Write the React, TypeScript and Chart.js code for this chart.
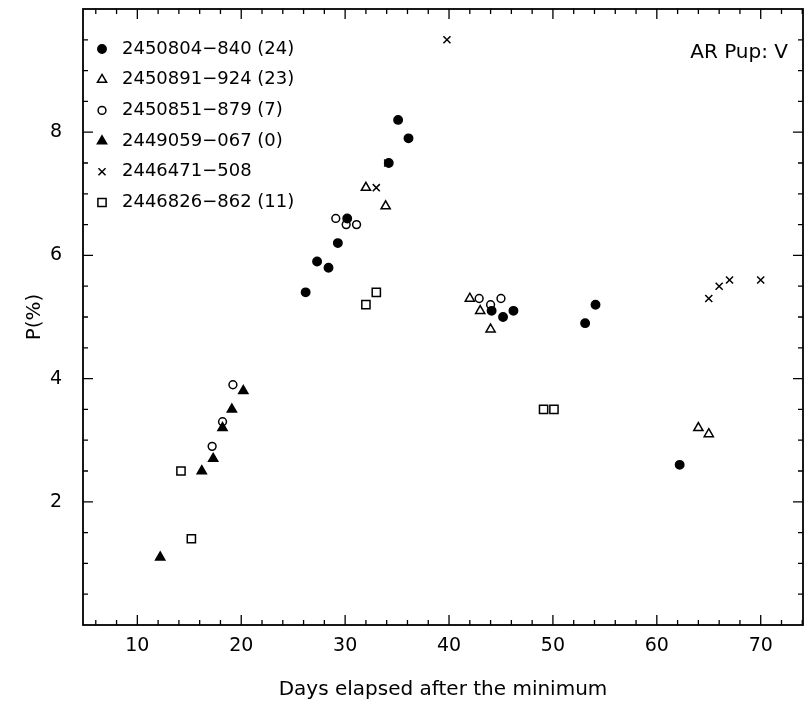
import React, { useEffect, useRef } from 'react';
import { Chart, registerables } from 'chart.js';
Chart.register(...registerables);

const FONT = "'DejaVu Sans', 'Liberation Sans', sans-serif";

const xTicks = [10, 20, 30, 40, 50, 60, 70];
const yTicks = [2, 4, 6, 8];
const xTitle = 'Days elapsed after the minimum';
const yTitle = 'P(%)';
const starLabel = 'AR Pup: V';

const s1Label = '2450804−840 (24)';
const s1X = [26.2, 27.3, 28.4, 29.3, 30.2, 34.2, 35.1, 36.1, 44.1, 45.2, 46.2, 53.1, 54.1, 62.2];
const s1Y = [5.4, 5.9, 5.8, 6.2, 6.6, 7.5, 8.2, 7.9, 5.1, 5.0, 5.1, 4.9, 5.2, 2.6];

const s2Label = '2450891−924 (23)';
const s2X = [32.0, 33.9, 42.0, 43.0, 44.0, 64.0, 65.0];
const s2Y = [7.1, 6.8, 5.3, 5.1, 4.8, 3.2, 3.1];

const s3Label = '2450851−879 (7)';
const s3X = [17.2, 18.2, 19.2, 29.1, 30.1, 31.1, 42.9, 44.0, 45.0];
const s3Y = [2.9, 3.3, 3.9, 6.6, 6.5, 6.5, 5.3, 5.2, 5.3];

const s4Label = '2449059−067 (0)';
const s4X = [12.2, 16.2, 17.3, 18.2, 19.1, 20.2];
const s4Y = [1.1, 2.5, 2.7, 3.2, 3.5, 3.8];

const s5Label = '2446471−508';
const s5X = [33.0, 34.1, 39.8, 65.0, 66.0, 67.0, 70.0];
const s5Y = [7.1, 7.5, 9.5, 5.3, 5.5, 5.6, 5.6];

const s6Label = '2446826−862 (11)';
const s6X = [14.2, 15.2, 32.0, 33.0, 49.1, 50.1];
const s6Y = [2.5, 1.4, 5.2, 5.4, 3.5, 3.5];

const pts = (xs: number[], ys: number[]) => xs.map((x, i) => ({ x, y: ys[i] }));

type Style = { shape: string; filled: boolean; r: number };
const styles: Style[] = [
  { shape: 'circle', filled: true, r: 4.2 },
  { shape: 'triangle', filled: false, r: 5.3 },
  { shape: 'circle', filled: false, r: 3.9 },
  { shape: 'triangle', filled: true, r: 5.3 },
  { shape: 'crossRot', filled: false, r: 5 },
  { shape: 'rect', filled: false, r: 5.8 },
];
const MARK_LW = 1.5;

function drawMarker(ctx: CanvasRenderingContext2D, s: Style, x: number, y: number) {
  const r = s.r;
  ctx.beginPath();
  if (s.shape === 'circle') {
    ctx.arc(x, y, r, 0, Math.PI * 2);
  } else if (s.shape === 'triangle') {
    let a = 0;
    ctx.moveTo(x + Math.sin(a) * r, y - Math.cos(a) * r);
    a += (2 * Math.PI) / 3;
    ctx.lineTo(x + Math.sin(a) * r, y - Math.cos(a) * r);
    a += (2 * Math.PI) / 3;
    ctx.lineTo(x + Math.sin(a) * r, y - Math.cos(a) * r);
    ctx.closePath();
  } else if (s.shape === 'rect') {
    const h = Math.SQRT1_2 * r;
    ctx.rect(x - h, y - h, 2 * h, 2 * h);
  } else if (s.shape === 'crossRot') {
    const o = Math.SQRT1_2 * r;
    ctx.moveTo(x - o, y - o); ctx.lineTo(x + o, y + o);
    ctx.moveTo(x - o, y + o); ctx.lineTo(x + o, y - o);
  }
  if (s.filled) ctx.fill();
  ctx.stroke();
}

const framePlugin = {
  id: 'frameTicks',
  afterDraw(chart: any) {
    const { ctx, chartArea: a, scales } = chart;
    const xs = scales.x;
    const ys = scales.y;
    ctx.save();
    ctx.strokeStyle = '#000';
    ctx.fillStyle = '#000';
    ctx.lineWidth = 1.8;
    ctx.strokeRect(a.left, a.top, a.right - a.left, a.bottom - a.top);
    ctx.lineWidth = 1.3;
    ctx.beginPath();
    for (let v = 6; v <= 74; v += 2) {
      const px = xs.getPixelForValue(v);
      const len = v % 10 === 0 ? 10 : 5;
      ctx.moveTo(px, a.bottom); ctx.lineTo(px, a.bottom - len);
      ctx.moveTo(px, a.top); ctx.lineTo(px, a.top + len);
    }
    for (let i = 1; i <= 19; i++) {
      const py = ys.getPixelForValue(i * 0.5);
      const len = i % 4 === 0 ? 10 : 5;
      ctx.moveTo(a.left, py); ctx.lineTo(a.left + len, py);
      ctx.moveTo(a.right, py); ctx.lineTo(a.right - len, py);
    }
    ctx.stroke();

    // legend
    const labels = chart.data.datasets.map((d: any) => d.label);
    ctx.font = `18px ${FONT}`;
    ctx.textBaseline = 'middle';
    ctx.textAlign = 'left';
    ctx.lineWidth = MARK_LW;
    labels.forEach((lab: string, i: number) => {
      const y = a.top + 40 + i * 30.7;
      drawMarker(ctx, styles[i], a.left + 19, y);
      ctx.fillText(lab, a.left + 39, y);
    });

    // star label
    ctx.font = `20px ${FONT}`;
    ctx.textAlign = 'right';
    ctx.fillText(starLabel, a.right - 15, a.top + 44);
    ctx.restore();
  },
};

export default function App() {
  const ref = useRef<HTMLCanvasElement>(null);
  useEffect(() => {
    if (!ref.current) return;
    const series = [
      [s1Label, s1X, s1Y],
      [s2Label, s2X, s2Y],
      [s3Label, s3X, s3Y],
      [s4Label, s4X, s4Y],
      [s5Label, s5X, s5Y],
      [s6Label, s6X, s6Y],
    ] as [string, number[], number[]][];
    const chart = new Chart(ref.current, {
      type: 'scatter',
      data: {
        datasets: series.map(([label, xs, ys], i) => ({
          label,
          data: pts(xs, ys),
          pointStyle: styles[i].shape as any,
          pointRadius: styles[i].r,
          pointHoverRadius: styles[i].r,
          pointBorderWidth: MARK_LW,
          borderColor: '#000',
          backgroundColor: styles[i].filled ? '#000' : 'rgba(0,0,0,0)',
          showLine: false,
        })),
      },
      options: {
        animation: false,
        responsive: false,
        events: [],
        layout: { autoPadding: false, padding: { left: 0, right: 1, top: 9, bottom: 0 } },
        plugins: { legend: { display: false }, tooltip: { enabled: false } },
        scales: {
          x: {
            type: 'linear',
            min: 4.77,
            max: 74.07,
            afterBuildTicks: (s: any) => { s.ticks = xTicks.map((v) => ({ value: v })); },
            afterFit: (s: any) => { s.height = 80; s.paddingLeft = 0; s.paddingRight = 0; },
            grid: { display: false, drawTicks: false },
            border: { display: false },
            ticks: { color: '#000', font: { family: FONT, size: 19 }, padding: 10, maxRotation: 0, autoSkip: false },
            title: { display: true, text: xTitle, color: '#000', font: { family: FONT, size: 20 }, padding: { top: 0, bottom: 3 } },
          },
          y: {
            type: 'linear',
            min: 0,
            max: 10,
            afterBuildTicks: (s: any) => { s.ticks = yTicks.map((v) => ({ value: v })); },
            afterFit: (s: any) => { s.width = 83; s.paddingTop = 0; s.paddingBottom = 0; },
            grid: { display: false, drawTicks: false },
            border: { display: false },
            ticks: { color: '#000', font: { family: FONT, size: 19 }, padding: 21 },
            title: { display: true, text: yTitle, color: '#000', font: { family: FONT, size: 20 }, padding: { top: 23, bottom: 0 } },
          },
        },
      },
      plugins: [framePlugin],
    });
    return () => chart.destroy();
  }, []);
  return (
    <div style={{ position: 'absolute', left: 0, top: 0, width: 804, height: 705, background: '#fff' }}>
      <canvas ref={ref} width={804} height={705} style={{ display: 'block' }} />
    </div>
  );
}
